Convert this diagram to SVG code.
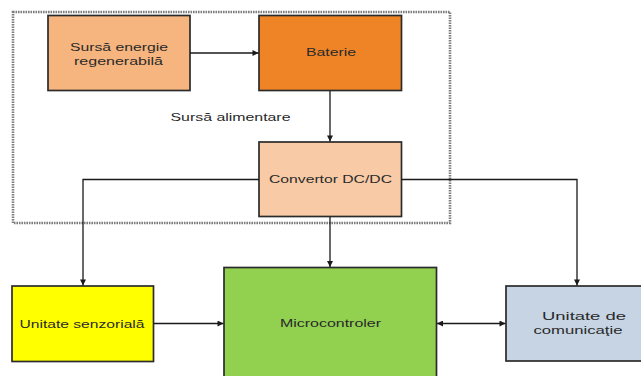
<svg xmlns="http://www.w3.org/2000/svg" width="641" height="376" viewBox="0 0 641 376">
  <style>
    .box { stroke: #2b2b2b; stroke-width: 1.7; }
    .lbl { font-family: "Liberation Sans", Arial, sans-serif; font-size: 11.5px; fill: #2a2a2a; text-anchor: middle; dominant-baseline: central; }
    .wire { fill: none; stroke: #1a1a1a; stroke-width: 1.3; }
    .frame { fill: none; stroke: #7d7d7d; stroke-width: 2.6; stroke-dasharray: 1.6 0.9; }
  </style>
  <defs>
    <marker id="arrow" viewBox="0 0 10 10" refX="10" refY="5" markerWidth="6.5" markerHeight="6" orient="auto-start-reverse" markerUnits="userSpaceOnUse">
      <path d="M0,0 L10,5 L0,10 Z" fill="#1a1a1a"/>
    </marker>
  </defs>
  <rect width="641" height="376" fill="#ffffff"/>

  <!-- power supply boundary -->
  <g id="sursa-alimentare">
    <rect class="frame" x="13" y="12" width="437" height="211"/>
    <text class="lbl" x="230.5" y="117" textLength="120" lengthAdjust="spacingAndGlyphs">Sursă alimentare</text>
  </g>

  <g id="sursa-energie">
    <rect class="box" x="48" y="15.5" width="142" height="75" fill="#F6B47E"/>
    <text class="lbl" x="119" y="46.5" textLength="98" lengthAdjust="spacingAndGlyphs">Sursă energie</text>
    <text class="lbl" x="118.5" y="61" textLength="89" lengthAdjust="spacingAndGlyphs">regenerabilă</text>
  </g>

  <g id="baterie">
    <rect class="box" x="259" y="15.5" width="142.5" height="75" fill="#EF8426"/>
    <text class="lbl" x="331" y="52" textLength="50" lengthAdjust="spacingAndGlyphs">Baterie</text>
  </g>

  <g id="convertor">
    <rect class="box" x="259" y="142" width="142.5" height="74.5" fill="#F8CBA6"/>
    <text class="lbl" x="330.5" y="178.5" textLength="123" lengthAdjust="spacingAndGlyphs">Convertor DC/DC</text>
  </g>

  <g id="unitate-senzoriala">
    <rect class="box" x="12" y="286" width="141.5" height="75.5" fill="#FFFF00"/>
    <text class="lbl" x="82" y="323.5" textLength="125" lengthAdjust="spacingAndGlyphs">Unitate senzorială</text>
  </g>

  <g id="microcontroler">
    <rect class="box" x="224" y="267.5" width="212.5" height="115" fill="#92D050"/>
    <text class="lbl" x="330.5" y="323" textLength="101" lengthAdjust="spacingAndGlyphs">Microcontroler</text>
  </g>

  <g id="unitate-comunicatie">
    <rect class="box" x="506" y="286" width="145" height="75" fill="#C6D4E4"/>
    <text class="lbl" x="584" y="316" textLength="84" lengthAdjust="spacingAndGlyphs">Unitate de</text>
    <text class="lbl" x="578" y="330" textLength="89" lengthAdjust="spacingAndGlyphs">comunicaţie</text>
  </g>

  <g id="connectors">
    <path class="wire" d="M190,53 H258.5" marker-end="url(#arrow)"/>
    <path class="wire" d="M330,91 V141.5" marker-end="url(#arrow)"/>
    <path class="wire" d="M259,179.5 H83 V285.5" marker-end="url(#arrow)"/>
    <path class="wire" d="M401.5,179.5 H577 V285.5" marker-end="url(#arrow)"/>
    <path class="wire" d="M330,217 V267" marker-end="url(#arrow)"/>
    <path class="wire" d="M154,323.5 H223.5" marker-end="url(#arrow)"/>
    <path class="wire" d="M437,323.5 H505.5" marker-start="url(#arrow)" marker-end="url(#arrow)"/>
  </g>
</svg>
